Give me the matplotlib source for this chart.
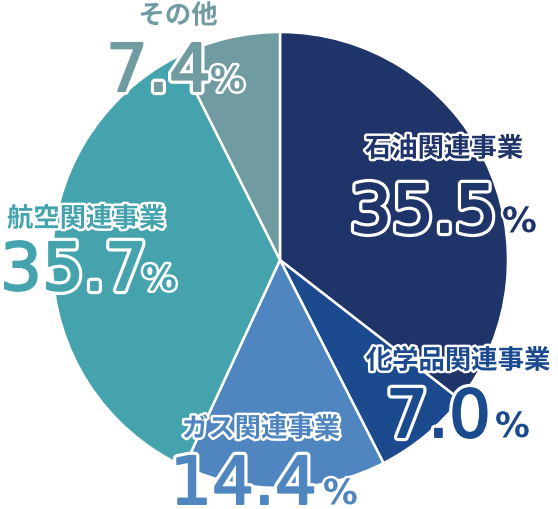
import matplotlib
matplotlib.use("Agg")
import matplotlib.pyplot as plt
import matplotlib.patheffects as pe

labels = ["石油関連事業", "化学品関連事業", "ガス関連事業", "航空関連事業", "その他"]
values = [35.5, 7.0, 14.4, 35.7, 7.4]
colors = ["#1f3469", "#1c4a8f", "#4f86c0", "#45a3ae", "#6f9ba1"]

W, H = 558, 510
fig = plt.figure(figsize=(W / 100, H / 100), dpi=100)
ax = fig.add_axes([0, 0, 1, 1])
ax.set_xlim(0, W)
ax.set_ylim(0, H)
ax.set_aspect("equal")
ax.axis("off")

cx, cy, r = 280, 261, 228
ax.pie(values, colors=colors, startangle=90, counterclock=False,
       center=(cx, H - cy), radius=r,
       wedgeprops=dict(edgecolor="white", linewidth=1.8))
ax.set_xlim(0, W)
ax.set_ylim(0, H)

# label layout: (label center x, label center y, number left x, baseline y, percent left x)
layout = [
    (444, 150, 350, 233, 502),
    (458, 362, 386, 438, 495),
    (261, 430, 170, 505, 323),
    (86, 220, 0, 291, 142),
    (178, 17, 106, 92, 210),
]

jp = ["Noto Sans CJK JP", "DejaVu Sans"]
for lab, val, col, (lx, ly, nx, ny, px) in zip(labels, values, colors, layout):
    eff = [pe.withStroke(linewidth=3.5, foreground="white")]
    ax.text(lx, H - ly, lab, ha="center", va="center", fontsize=19,
            fontweight="bold", family=jp, color=col, path_effects=eff)
    num_eff = [pe.Stroke(linewidth=6, foreground="white"),
               pe.Stroke(linewidth=1.4, foreground=col), pe.Normal()]
    ax.text(nx, H - ny, f"{val:.1f}", ha="left", va="baseline", fontsize=47.5,
            family="DejaVu Sans", color=col, path_effects=num_eff)
    ax.text(px, H - ny, "%", ha="left", va="baseline", fontsize=25,
            family="DejaVu Sans", fontweight="bold", color=col,
            path_effects=[pe.withStroke(linewidth=3.5, foreground="white")])

fig.savefig("out.png", dpi=100)
